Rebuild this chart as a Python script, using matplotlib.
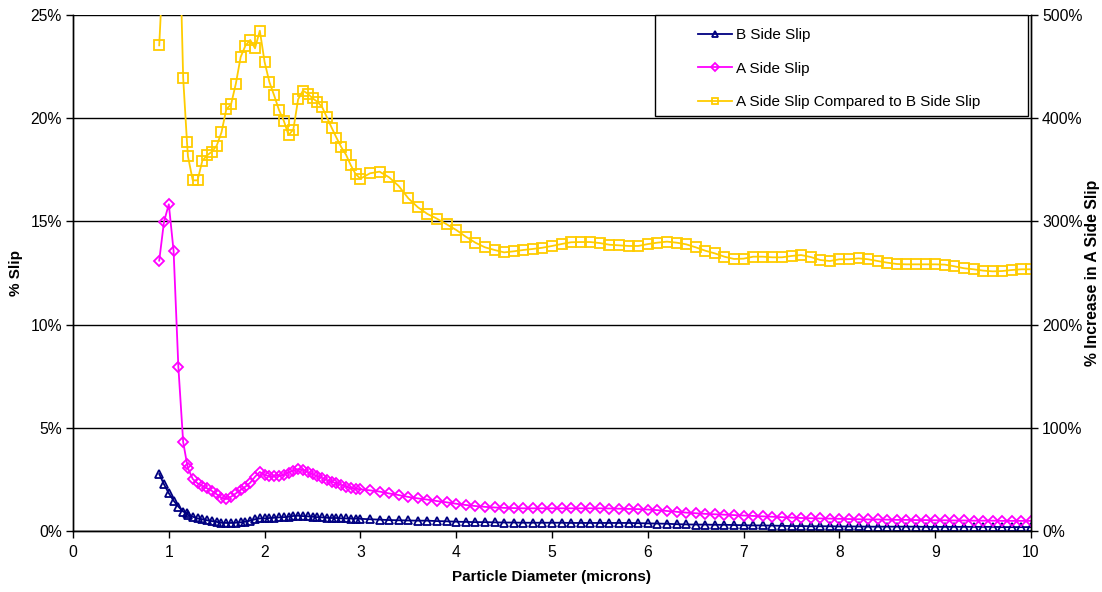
import matplotlib
matplotlib.use("Agg")
import matplotlib.pyplot as plt
from matplotlib.patches import Rectangle
from matplotlib.ticker import FuncFormatter

plt.rcParams["font.family"] = ["Liberation Sans", "DejaVu Sans"]

# ── Data ───────────────────────────────────────────────────────────────────────
diameter = [
    0.9, 0.95, 1.0, 1.05, 1.1, 1.15, 1.19, 1.2, 1.25, 1.3, 1.35, 1.4, 1.45, 1.5,
    1.55, 1.6, 1.65, 1.7, 1.75, 1.8, 1.85, 1.9, 1.95, 2.0, 2.05, 2.1, 2.15, 2.2,
    2.25, 2.3, 2.35, 2.4, 2.45, 2.5, 2.55, 2.6, 2.65, 2.7, 2.75, 2.8, 2.85, 2.9,
    2.95, 3.0,
    3.1, 3.2, 3.3, 3.4, 3.5, 3.6, 3.7, 3.8, 3.9, 4.0,
    4.1, 4.2, 4.3, 4.4, 4.5, 4.6, 4.7, 4.8, 4.9, 5.0,
    5.1, 5.2, 5.3, 5.4, 5.5, 5.6, 5.7, 5.8, 5.9, 6.0,
    6.1, 6.2, 6.3, 6.4, 6.5, 6.6, 6.7, 6.8, 6.9, 7.0,
    7.1, 7.2, 7.3, 7.4, 7.5, 7.6, 7.7, 7.8, 7.9, 8.0,
    8.1, 8.2, 8.3, 8.4, 8.5, 8.6, 8.7, 8.8, 8.9, 9.0,
    9.1, 9.2, 9.3, 9.4, 9.5, 9.6, 9.7, 9.8, 9.9, 10.0,
]

b_slip = [
    2.76, 2.26, 1.83, 1.47, 1.18, 0.94, 0.86, 0.78, 0.69, 0.61, 0.57, 0.52, 0.48, 0.44,
    0.40, 0.39, 0.39, 0.40, 0.42, 0.45, 0.50, 0.57, 0.61, 0.61, 0.63, 0.64, 0.66, 0.67,
    0.69, 0.73, 0.74, 0.72, 0.71, 0.69, 0.67, 0.66, 0.64, 0.63, 0.63, 0.61, 0.61, 0.60,
    0.60, 0.59,
    0.57, 0.55, 0.53, 0.52, 0.51, 0.50, 0.50, 0.48, 0.47, 0.45,
    0.44, 0.43, 0.43, 0.42, 0.41, 0.41, 0.40, 0.40, 0.40, 0.40,
    0.40, 0.39, 0.39, 0.39, 0.39, 0.39, 0.39, 0.39, 0.38, 0.37,
    0.36, 0.35, 0.33, 0.32, 0.31, 0.31, 0.30, 0.30, 0.29, 0.28,
    0.27, 0.27, 0.26, 0.25, 0.24, 0.24, 0.23, 0.23, 0.23, 0.22,
    0.22, 0.22, 0.21, 0.21, 0.21, 0.21, 0.21, 0.21, 0.20, 0.20,
    0.20, 0.20, 0.20, 0.20, 0.20, 0.20, 0.19, 0.19, 0.19, 0.19,
]

a_slip = [
    13.10, 14.99, 15.83, 13.57, 7.93, 4.31, 3.26, 3.04, 2.52, 2.31, 2.18, 2.07, 1.94, 1.78,
    1.61, 1.55, 1.66, 1.82, 1.99, 2.15, 2.34, 2.63, 2.86, 2.71, 2.66, 2.66, 2.68, 2.71,
    2.83, 2.92, 3.00, 2.97, 2.86, 2.76, 2.66, 2.57, 2.47, 2.39, 2.31, 2.23, 2.15, 2.09,
    2.05, 2.02,
    1.97, 1.91, 1.82, 1.74, 1.65, 1.58, 1.52, 1.45, 1.39, 1.32,
    1.26, 1.21, 1.17, 1.14, 1.12, 1.11, 1.10, 1.10, 1.10, 1.10,
    1.10, 1.10, 1.10, 1.10, 1.10, 1.09, 1.08, 1.07, 1.06, 1.04,
    1.01, 0.97, 0.93, 0.89, 0.86, 0.83, 0.81, 0.79, 0.77, 0.75,
    0.73, 0.71, 0.69, 0.67, 0.65, 0.63, 0.62, 0.61, 0.60, 0.59,
    0.58, 0.57, 0.56, 0.56, 0.55, 0.54, 0.54, 0.53, 0.53, 0.52,
    0.52, 0.51, 0.51, 0.50, 0.50, 0.50, 0.49, 0.49, 0.49, 0.49,
]

a_vs_b = [
    470.6, 565.0, 850.0, 900.0, 624.0, 439.0, 376.6, 363.0, 339.8, 339.8, 358.8, 364.0, 367.6, 373.4,
    386.3, 408.6, 413.5, 433.5, 459.3, 470.3, 475.8, 467.7, 484.8, 454.5, 435.0, 422.0, 408.0, 397.6,
    383.7, 389.0, 418.3, 426.7, 423.8, 419.3, 416.0, 410.9, 400.9, 390.8, 381.1, 372.0, 364.6, 354.3,
    345.9, 341.4,
    346.6, 348.2, 342.7, 334.3, 322.4, 313.7, 307.2, 302.6, 297.2, 291.7,
    285.2, 279.4, 274.9, 272.3, 270.0, 271.0, 272.3, 273.3, 274.5, 276.2,
    278.1, 279.8, 280.0, 280.0, 279.0, 277.4, 276.8, 276.2, 276.2, 278.0,
    279.4, 280.4, 279.4, 277.8, 274.9, 271.6, 269.0, 265.8, 263.6, 263.9,
    265.8, 265.8, 265.2, 265.2, 266.5, 267.4, 265.5, 262.6, 261.6, 263.3,
    263.3, 264.2, 263.3, 261.6, 260.0, 258.7, 258.4, 258.4, 258.4, 258.4,
    258.1, 256.5, 254.6, 253.6, 252.3, 251.6, 251.9, 252.9, 253.6, 253.6,
]

x_ticks = [0, 1, 2, 3, 4, 5, 6, 7, 8, 9, 10]
left_ticks = [0, 5, 10, 15, 20, 25]
right_ticks = [0, 100, 200, 300, 400, 500]

# ── Figure ─────────────────────────────────────────────────────────────────────
W, H = 1102, 592
fig = plt.figure(figsize=(W / 100, H / 100), dpi=100)
ax = fig.add_axes([73 / W, 1 - 531 / H, 958 / W, 516 / H])
ax2 = ax.twinx()

pct = FuncFormatter(lambda v, _: f"{v:.0f}%")

l1, = ax.plot(diameter, b_slip, color="#000080", lw=1.3, marker="^", ms=6,
              mfc="none", mec="#000080", mew=1.3, label="B Side Slip")
l2, = ax.plot(diameter, a_slip, color="#FF00FF", lw=1.3, marker="D", ms=5,
              mfc="none", mec="#FF00FF", mew=1.3, label="A Side Slip")
l3, = ax2.plot(diameter, a_vs_b, color="#FFCC00", lw=1.3, marker="s", ms=6.5,
               mfc="none", mec="#FFCC00", mew=1.3,
               label="A Side Slip Compared to B Side Slip")

ax.set_xlim(0, 10)
ax.set_ylim(0, 25)
ax2.set_ylim(0, 500)
ax.set_xticks(x_ticks)
ax.set_yticks(left_ticks)
ax2.set_yticks(right_ticks)
ax.yaxis.set_major_formatter(pct)
ax2.yaxis.set_major_formatter(pct)

ax.grid(axis="y", color="black", lw=1.0)
ax.set_axisbelow(True)
for a in (ax, ax2):
    a.spines["top"].set_visible(False)
    for s in ("left", "right", "bottom"):
        a.spines[s].set_color("black")
        a.spines[s].set_linewidth(1.0)
    a.tick_params(direction="out", length=5, width=1, labelsize=11.3, colors="black")
ax.tick_params(axis="x", pad=5)
ax.tick_params(axis="y", pad=3)
ax2.tick_params(axis="y", pad=3)

ax.set_xlabel("Particle Diameter (microns)", fontsize=11, fontweight="bold", labelpad=7)
ax.set_ylabel("% Slip", fontsize=11, fontweight="bold", va="center", ha="center")
ax2.set_ylabel("% Increase in A Side Slip", fontsize=11.3, fontweight="bold",
               rotation=90, va="center", ha="center")
ax.yaxis.set_label_coords((16 - 73) / 958, 0.5)
ax2.yaxis.set_label_coords((1093 - 73) / 958, 0.5)

# ── Legend ─────────────────────────────────────────────────────────────────────
fig.add_artist(Rectangle((655 / W, 1 - 116 / H), 373 / W, 101 / H,
                         transform=fig.transFigure, facecolor="white",
                         edgecolor="black", lw=1.0, zorder=5))
leg = fig.legend(handles=[l1, l2, l3], loc="upper left",
                 bbox_to_anchor=(698 / W, 1 - 28 / H), frameon=False,
                 fontsize=11, handlelength=2.2, handletextpad=0.3,
                 labelspacing=1.28, borderpad=0, borderaxespad=0, markerscale=0.75)
leg.set_zorder(6)

fig.savefig("out.png", dpi=100)
